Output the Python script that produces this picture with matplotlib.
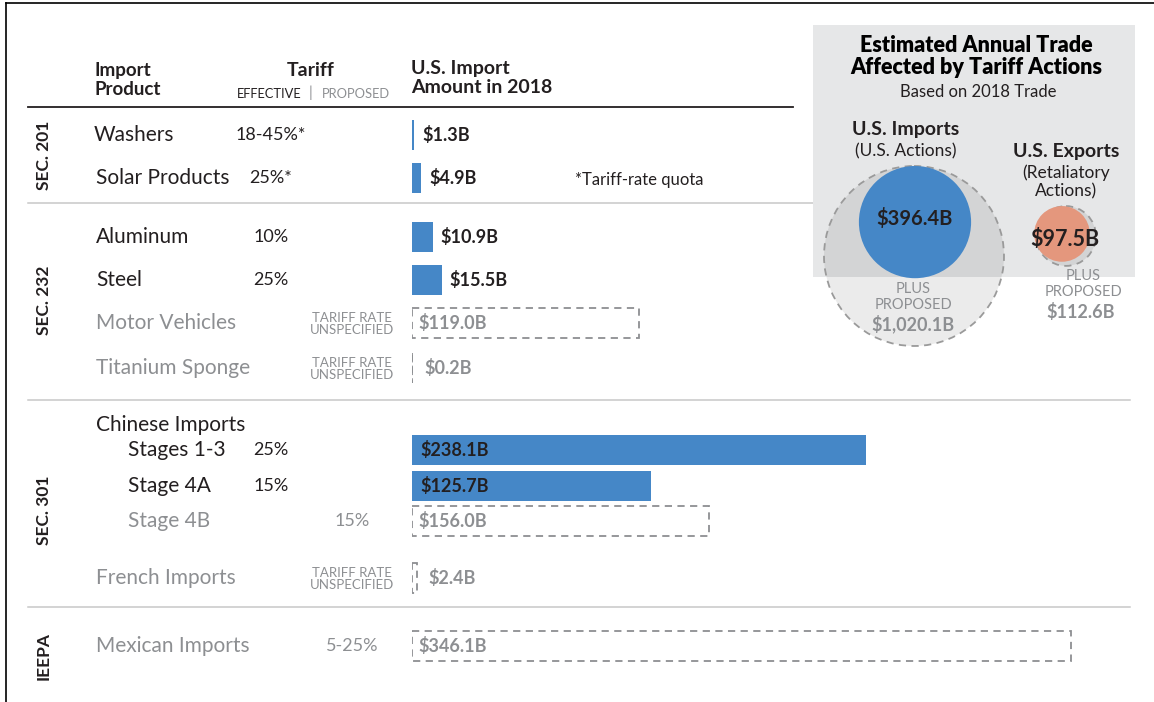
import numpy as np
import matplotlib.pyplot as plt
from matplotlib.patches import Rectangle, Circle

plt.rcParams['font.family'] = ['Lato', 'DejaVu Sans']

W, H = 1154, 702

# ---- data ----
sections = ['SEC. 201', 'SEC. 232', 'SEC. 301', 'IEEPA']
products = ['Washers', 'Solar Products', 'Aluminum', 'Steel', 'Motor Vehicles',
            'Titanium Sponge', 'Stages 1-3', 'Stage 4A', 'Stage 4B',
            'French Imports', 'Mexican Imports']
tariff_effective = ['18-45%*', '25%*', '10%', '25%', '', '', '25%', '15%', '', '', '']
tariff_proposed = ['', '', '', '', 'TARIFF RATE\nUNSPECIFIED', 'TARIFF RATE\nUNSPECIFIED',
                   '', '', '15%', 'TARIFF RATE\nUNSPECIFIED', '5-25%']
imports_2018 = [1.3, 4.9, 10.9, 15.5, 119.0, 0.2, 238.1, 125.7, 156.0, 2.4, 346.1]
proposed = [False, False, False, False, True, True, False, False, True, True, True]

us_imports_actions = 396.4
us_imports_plus_proposed = 1020.1
us_exports_retaliatory = 97.5
us_exports_plus_proposed = 112.6

# ---- layout ----
row_y = [135, 178, 237, 280, 323, 368, 450, 486, 521, 578, 646]
row_x = [94, 96, 96, 96, 96, 96, 128, 128, 128, 96, 96]
section_y = [155, 300, 510, 656]
sep_y = [203, 400, 607]
bar_x0 = 412
px_per_b = 1.905
bar_h = 30

DARK = '#231f20'
GREY = '#8d8f92'
BLUE = '#4587c7'
SALMON = '#e4977d'
BOXGREY = '#e6e7e8'

fig = plt.figure(figsize=(W / 100, H / 100), dpi=100)
ax = fig.add_axes([0, 0, 1, 1])
ax.set_xlim(0, W)
ax.set_ylim(H, 0)
ax.axis('off')

# frame edges
ax.plot([6, 6], [3, H], color='black', lw=1.2)
ax.plot([6, W], [3, 3], color='black', lw=1.2)

# header
ax.text(94, 80, 'Import\nProduct', fontsize=13.5, fontweight='bold', color=DARK,
        va='center', ha='left', linespacing=1.2)
ax.text(311, 71, 'Tariff', fontsize=14, fontweight='bold', color=DARK, ha='center', va='center')
ax.text(301, 94, 'EFFECTIVE', fontsize=9.3, color=DARK, ha='right', va='center')
ax.text(311, 93, '|', fontsize=10.5, color=GREY, ha='center', va='center')
ax.text(322, 94, 'PROPOSED', fontsize=9.3, color=GREY, ha='left', va='center')
ax.text(411, 78, 'U.S. Import\nAmount in 2018', fontsize=14, fontweight='bold', color=DARK,
        va='center', ha='left', linespacing=1.15)
ax.plot([28, 793], [107, 107], color=DARK, lw=1.3)

for y in sep_y:
    ax.plot([28, 1130], [y, y], color='#c8c8c8', lw=1.1)

for name, y in zip(sections, section_y):
    ax.text(44, y, name, rotation=90, fontsize=12.5, fontweight='bold', color=DARK,
            ha='center', va='center')

# rows
for name, x, y, eff, prop, p in zip(products, row_x, row_y, tariff_effective,
                                    tariff_proposed, proposed):
    col = GREY if p else DARK
    ax.text(x, y, name, fontsize=15, color=col, ha='left', va='center')
    if eff:
        ax.text(271, y, eff, fontsize=13, color=DARK, ha='center', va='center')
    if prop:
        if '\n' in prop:
            ax.text(352, y + 1, prop, fontsize=9.5, color=GREY, ha='center', va='center',
                    linespacing=1.05)
        else:
            ax.text(352, y, prop, fontsize=13, color=GREY, ha='center', va='center')

ax.text(96, 425, 'Chinese Imports', fontsize=15, color=DARK, ha='left', va='center')
ax.text(575, 180, '*Tariff-rate quota', fontsize=12, color=DARK, ha='left', va='center')

# bars
bx = fig.add_axes([bar_x0 / W, 0, (W - bar_x0) / W, 1])
bx.set_xlim(0, (W - bar_x0) / px_per_b)
bx.set_ylim(H, 0)
bx.axis('off')
bx.patch.set_alpha(0)

for v, y, p in zip(imports_2018, row_y, proposed):
    if p:
        bx.barh(y, v, height=bar_h, left=0, facecolor='none', edgecolor=GREY,
                linestyle=(0, (4, 3)), lw=1.3)
    else:
        bx.barh(y, v, height=bar_h, left=0, color=BLUE, edgecolor='none')
    wide = v * px_per_b > 100
    col = GREY if p else DARK
    if wide:
        bx.annotate(f'${v:.1f}B', (0, y), xytext=(8 if not p else 6, 0),
                    textcoords='offset pixels', fontsize=13, fontweight='bold',
                    color=col, ha='left', va='center')
    else:
        bx.annotate(f'${v:.1f}B', (v, y), xytext=(8 if not p else 12, 0),
                    textcoords='offset pixels', fontsize=13, fontweight='bold',
                    color=col, ha='left', va='center')

# summary box
ax.add_patch(Rectangle((813, 25), 322, 252, facecolor=BOXGREY, edgecolor='none', zorder=3))
ax.text(976, 45, 'Estimated Annual Trade', fontsize=15.5, fontweight='heavy', color='black',
        ha='center', va='center', zorder=5)
ax.text(976, 68, 'Affected by Tariff Actions', fontsize=15.5, fontweight='heavy',
        color='black', ha='center', va='center', zorder=5)
ax.text(978, 92, 'Based on 2018 Trade', fontsize=12, color=DARK, ha='center', va='center',
        zorder=5)
ax.text(906, 130, 'U.S. Imports', fontsize=14, fontweight='bold', color=DARK, ha='center',
        va='center', zorder=5)
ax.text(906, 151, '(U.S. Actions)', fontsize=12.5, color=DARK, ha='center', va='center',
        zorder=5)
ax.text(1066, 152, 'U.S. Exports', fontsize=14, fontweight='bold', color=DARK, ha='center',
        va='center', zorder=5)
ax.text(1066, 182, '(Retaliatory\nActions)', fontsize=12.5, color=DARK, ha='center',
        va='center', linespacing=1.2, zorder=5)

R_MAX = 90
def radius(v):
    return R_MAX * np.sqrt(v / us_imports_plus_proposed)

r_big = radius(us_imports_plus_proposed)
r_blue = radius(us_imports_actions)
r_red = radius(us_exports_retaliatory)
r_exp = radius(us_exports_plus_proposed)

big_c = (914, 256)
ax.add_patch(Circle(big_c, r_big, facecolor=(0, 0, 0, 0.08), edgecolor='#9a9a9a',
                    linestyle=(0, (4, 3)), lw=1.3, zorder=4))
ax.add_patch(Circle((915, big_c[1] - r_big + r_blue), r_blue, facecolor=BLUE,
                    edgecolor='none', zorder=4.5))
exp_c = (1066, 236)
ax.add_patch(Circle(exp_c, r_exp, facecolor=(0, 0, 0, 0.08), edgecolor='#9a9a9a',
                    linestyle=(0, (4, 3)), lw=1.3, zorder=4))
ax.add_patch(Circle((1062, exp_c[1] - r_exp + r_red), r_red, facecolor=SALMON,
                    edgecolor='none', zorder=4.5))

ax.text(915, 218, f'${us_imports_actions:.1f}B', fontsize=14.5, fontweight='bold',
        color=DARK, ha='center', va='center', zorder=6)
ax.text(1065, 239, f'${us_exports_retaliatory:.1f}B', fontsize=15.5, fontweight='bold',
        color=DARK, ha='center', va='center', zorder=6)
ax.text(913, 297, 'PLUS\nPROPOSED', fontsize=10.5, color=GREY, ha='center', va='center',
        linespacing=1.1, zorder=6)
ax.text(913, 324, f'${us_imports_plus_proposed:,.1f}B', fontsize=13, fontweight='bold',
        color=GREY, ha='center', va='center', zorder=6)
ax.text(1083, 284, 'PLUS\nPROPOSED', fontsize=10.5, color=GREY, ha='center', va='center',
        linespacing=1.1, zorder=6)
ax.text(1081, 312, f'${us_exports_plus_proposed:.1f}B', fontsize=13, fontweight='bold',
        color=GREY, ha='center', va='center', zorder=6)

fig.savefig('out.png', dpi=100)
